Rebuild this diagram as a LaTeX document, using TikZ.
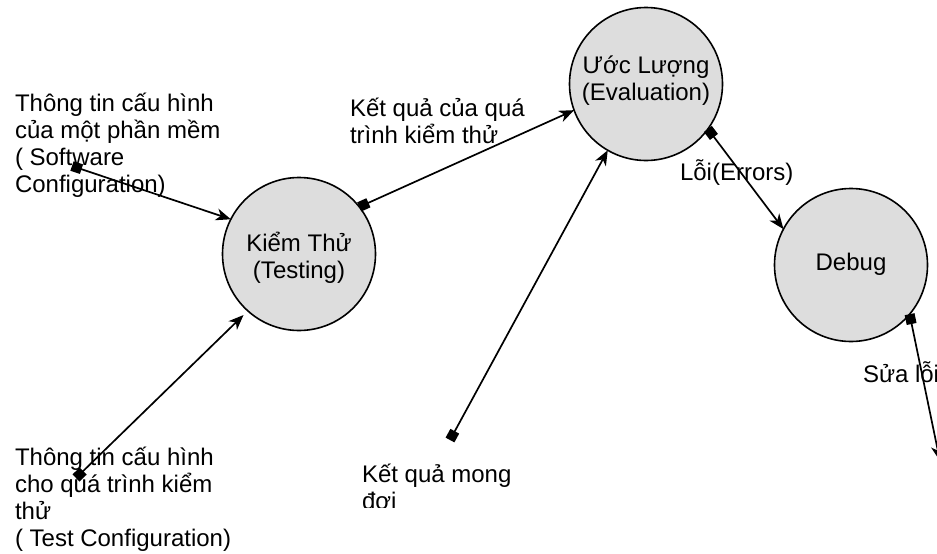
\documentclass[tikz,border=0pt]{standalone}
\usepackage{fontspec}
\setmainfont{Liberation Sans}
\usetikzlibrary{arrows.meta}
\definecolor{stategray}{HTML}{DDDDDD}
\begin{document}
\begin{tikzpicture}[x=1pt,y=-1pt,
  every node/.style={inner sep=0pt, outer sep=0pt},
  state/.style={circle, draw, line width=1.6pt, fill=stategray, minimum size=153pt},
  lbl/.style={font=\fontsize{24}{27}\selectfont, align=left, anchor=base west},
  clbl/.style={font=\fontsize{24}{27}\selectfont, align=center, anchor=base},
  flow/.style={line width=1.7pt,
    {Square[length=10pt,width=10pt]}-{Stealth[length=15pt,width=12pt,inset=4.5pt]}}
]
\clip (0,0) rectangle (937,554);

% process states
\node[state] (k) at (299,254) {};
\node[state] (u) at (646,84) {};
\node[state] (d) at (851,265) {};
% labels are anchored at the baseline of their last line
\node[clbl] (kt) at (299,278) {Kiểm Thử\\(Testing)};
\node[clbl] (ut) at (646,100) {Ước Lượng\\(Evaluation)};
\node[clbl] (dt) at (851,270) {Debug};

% free text blocks
\node[lbl] (sw) at (15,192) {Thông tin cấu hình\\của một phần mềm\\( Software\\Configuration)};
\node[lbl] (tc) at (15,546) {Thông tin cấu hình\\cho quá trình kiểm\\thử\\( Test Configuration)};
\node[lbl] (kq) at (350,143) {Kết quả của quá\\trình kiểm thử};
\node[lbl] (er) at (680,180) {Lỗi(Errors)};
\node[lbl] (sl) at (863,382) {Sửa lỗi};
\begin{scope}
  \clip (340,440) rectangle (600,507);
  \node[lbl] (mo) at (362,509) {Kết quả mong\\đợi};
\end{scope}

% connector end points
\coordinate (a1) at (72,166);
\coordinate (a3) at (76,478);
\coordinate (a4) at (450,440);
\coordinate (a6) at (940,461);

% flows
\draw[flow] (a1) -- (k.153);
\draw[flow, shorten >=6pt] (a3) -- (k.228);
\draw[flow] (k.38) -- (u.200);
\draw[flow] (a4) -- (u.240);
\draw[flow] (u.-36) -- (d.152);
\draw[flow] (d.-40) -- (a6);
\end{tikzpicture}
\end{document}
